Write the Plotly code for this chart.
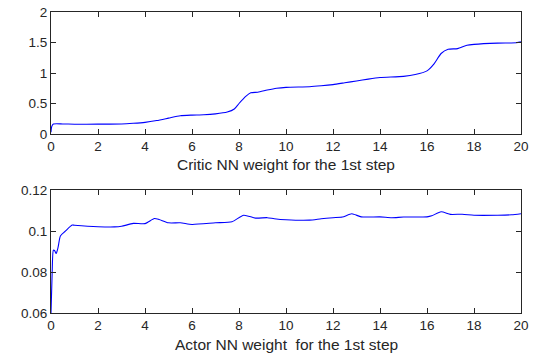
import plotly.graph_objects as go

# Critic NN weight (top)
critic_t = [0, 0.03, 0.1, 0.5, 1, 2, 3, 3.5, 4, 4.5, 5, 5.5, 6, 6.5, 7, 7.5, 7.8, 8.0, 8.3, 8.5, 8.8, 9.2, 9.6,
            10, 11, 11.5, 12, 12.5, 13, 13.5, 14, 15, 15.5, 16, 16.3, 16.6, 16.9, 17.3, 17.7, 18, 19, 19.8, 20]
critic_w = [0.03, 0.12, 0.163, 0.165, 0.16, 0.162, 0.165, 0.175, 0.19, 0.22, 0.26, 0.30, 0.31, 0.315, 0.33, 0.36, 0.41, 0.5, 0.62, 0.675, 0.685, 0.72, 0.75,
            0.765, 0.775, 0.79, 0.81, 0.84, 0.87, 0.90, 0.925, 0.945, 0.975, 1.035, 1.15, 1.32, 1.39, 1.40, 1.455, 1.47, 1.49, 1.495, 1.51]

# Actor NN weight (bottom)
actor_t = [0, 0.05, 0.1, 0.15, 0.22, 0.3, 0.4, 0.6, 0.9, 1, 2, 2.7, 3, 3.5, 4, 4.4, 4.6, 5, 5.5, 6, 7, 7.7, 8.2, 8.7, 9.2,
           9.5, 10, 11, 11.5, 12, 12.4, 12.8, 13.2, 14, 14.5, 15, 16, 16.2, 16.6, 17, 17.5, 18, 19, 19.6, 20]
actor_w = [0.06, 0.08, 0.0906, 0.0905, 0.089, 0.092, 0.0976, 0.0998, 0.1029, 0.1028, 0.1021, 0.102, 0.1023, 0.1037, 0.1036, 0.1061, 0.1056, 0.104, 0.104, 0.1032, 0.104, 0.1045, 0.1077, 0.1063, 0.1065,
           0.106, 0.1055, 0.1053, 0.106, 0.1065, 0.1068, 0.1084, 0.1069, 0.1069, 0.1065, 0.1068, 0.1069, 0.1074, 0.1094, 0.1081, 0.1082, 0.1077, 0.1077, 0.1079, 0.1084]

x_ticks = list(range(0, 21, 2))
critic_ticks = [0, 0.5, 1, 1.5, 2]
critic_labels = ["0", "0.5", "1", "1.5", "2"]
actor_ticks = [0.06, 0.08, 0.1, 0.12]
actor_labels = ["0.06", "0.08", "0.1", "0.12"]
critic_title = "Critic NN weight for the 1st step"
actor_title = "Actor NN weight  for the 1st step"

FONT = "Liberation Sans, Arial"
INK = "#262626"

fig = go.Figure()
fig.add_trace(go.Scatter(x=critic_t, y=critic_w, mode="lines", line=dict(color="#0000FF", width=1.1, shape="spline", smoothing=0.6),
                         xaxis="x", yaxis="y", showlegend=False))
fig.add_trace(go.Scatter(x=actor_t, y=actor_w, mode="lines", line=dict(color="#0000FF", width=1.1, shape="spline", smoothing=0.6),
                         xaxis="x2", yaxis="y2", showlegend=False))

axis_common = dict(showline=True, linecolor=INK, linewidth=1, mirror="ticks", ticks="inside", ticklen=5,
                   tickcolor=INK, showgrid=False, zeroline=False, automargin=False,
                   tickfont=dict(family=FONT, size=13.5, color=INK))

fig.update_layout(
    width=537, height=353,
    margin=dict(l=51, r=16, t=12, b=40),
    plot_bgcolor="white", paper_bgcolor="white",
    xaxis=dict(domain=[0, 1], anchor="y", range=[0, 20], tickvals=x_ticks, **axis_common),
    yaxis=dict(domain=[0.5947, 1], anchor="x", range=[0, 2], tickvals=critic_ticks, ticktext=critic_labels, **axis_common),
    xaxis2=dict(domain=[0, 1], anchor="y2", range=[0, 20], tickvals=x_ticks, **axis_common),
    yaxis2=dict(domain=[0, 0.4086], anchor="x2", range=[0.06, 0.12], tickvals=actor_ticks, ticktext=actor_labels, **axis_common),
    annotations=[
        dict(text=critic_title, xref="paper", yref="y domain", x=0.5, y=0, yshift=-31, xanchor="center", yanchor="middle",
             showarrow=False, font=dict(family=FONT, size=15.5, color=INK)),
        dict(text=actor_title, xref="paper", yref="y2 domain", x=0.5, y=0, yshift=-31, xanchor="center", yanchor="middle",
             showarrow=False, font=dict(family=FONT, size=15.5, color=INK)),
    ],
)

fig.write_html("out.html")
